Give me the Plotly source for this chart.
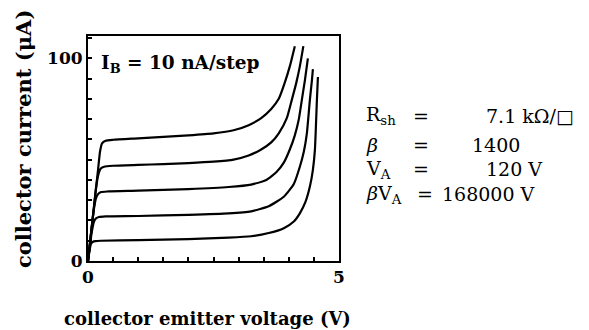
import plotly.graph_objects as go

# ---- data ----
v1 = [0, 0.04, 0.08, 0.12, 0.16, 0.20, 0.24, 0.28, 0.35, 0.5, 1.0, 1.5, 2.0, 2.5, 2.9, 3.2, 3.45, 3.65, 3.8, 3.92, 4.02, 4.12]
i1 = [0, 9, 18, 27, 36, 45, 54, 58, 59.3, 59.8, 60.5, 61.2, 62, 63, 64.5, 67, 70.5, 75, 80, 88, 96, 106]

v2 = [0, 0.04, 0.08, 0.12, 0.16, 0.20, 0.25, 0.32, 0.5, 1.0, 1.5, 2.0, 2.5, 2.9, 3.2, 3.45, 3.65, 3.8, 3.96, 4.06, 4.15, 4.22, 4.29]
i2 = [0, 9, 18, 27, 36, 42, 45.5, 46.5, 47, 47.4, 47.8, 48.3, 49, 50, 52, 55, 58.5, 63, 70.5, 79.5, 88, 96, 106]

v3 = [0, 0.04, 0.08, 0.12, 0.16, 0.20, 0.26, 0.4, 1.0, 2.0, 2.8, 3.25, 3.55, 3.76, 3.9, 4.02, 4.12, 4.2, 4.26, 4.32, 4.38]
i3 = [0, 9, 18, 26, 31, 33, 34, 34.3, 34.7, 35.5, 36.5, 37.7, 40, 44, 48.5, 55, 62, 70, 79.5, 89, 100]

v4 = [0, 0.04, 0.08, 0.12, 0.16, 0.22, 0.35, 1.0, 2.0, 2.8, 3.25, 3.6, 3.9, 4.1, 4.22, 4.3, 4.36, 4.42, 4.46, 4.48]
i4 = [0, 8, 15, 19.5, 21, 21.7, 22, 22.2, 22.8, 23.5, 24.5, 27, 31.7, 38, 46.5, 54, 63, 79.5, 89, 94.7]

v5 = [0, 0.03, 0.06, 0.10, 0.15, 0.25, 1.0, 2.0, 2.8, 3.25, 3.6, 3.9, 4.1, 4.22, 4.33, 4.42, 4.48, 4.52, 4.56, 4.58]
i5 = [0, 5, 8.5, 9.5, 9.8, 10, 10.3, 10.8, 11.5, 12.2, 13.8, 16.2, 19.5, 23.5, 29, 36.7, 45, 54.8, 79.5, 90.8]

curves = [(v1, i1), (v2, i2), (v3, i3), (v4, i4), (v5, i5)]

x_ticks = [0, 5]
x_labels = ["0", "5"]
x_minor_step = 0.5
y_ticks = [0, 100]
y_labels = ["0", "100"]
y_minor_step = 10

x_title = "collector emitter voltage (V)"
y_title = "collector current (μA)"
step_text = "I<sub>B</sub> = 10 nA/step"
param_names = ["R<sub>sh</sub>", "<i>β</i>", "V<sub>A</sub>", "<i>β</i>V<sub>A</sub>"]
param_values = ["7.1 kΩ/□", "1400", "120 V", "168000 V"]

# ---- layout geometry (pixels) ----
W, H = 589, 330
L, R, T, B = 88, 339, 36, 261

def px(x):
    return (x - L) / (R - L)

def py(y):
    return (B - y) / (B - T)

SERIF = "DejaVu Serif"

fig = go.Figure()
for v, i in curves:
    fig.add_trace(go.Scatter(x=v, y=i, mode="lines",
                             line=dict(color="black", width=2.2, shape="spline", smoothing=0.5),
                             showlegend=False, hoverinfo="skip"))

fig.update_layout(
    width=W, height=H,
    margin=dict(l=L, r=W - R, t=T, b=H - B),
    paper_bgcolor="white", plot_bgcolor="white",
    font=dict(family=SERIF, color="black"),
    xaxis=dict(range=[0, 5], tickvals=x_ticks, ticktext=x_labels,
               ticks="inside", ticklen=4, tickwidth=1.5, tickcolor="black",
               minor=dict(ticks="inside", dtick=x_minor_step, tick0=0, ticklen=4,
                          tickwidth=1.5, tickcolor="black", showgrid=False),
               showgrid=False, zeroline=False, showline=True, linewidth=2, linecolor="black",
               mirror=True, tickfont=dict(family=SERIF, size=17, weight="bold")),
    yaxis=dict(range=[0, 111], tickvals=y_ticks, ticktext=y_labels,
               ticks="inside", ticklen=4, tickwidth=1.5, tickcolor="black",
               minor=dict(ticks="inside", dtick=y_minor_step, tick0=0, ticklen=4,
                          tickwidth=1.5, tickcolor="black", showgrid=False),
               showgrid=False, zeroline=False, showline=True, linewidth=2, linecolor="black",
               mirror=True, tickfont=dict(family=SERIF, size=17, weight="bold")),
)

ann = []
ann.append(dict(text="<b>" + x_title + "</b>", x=px(207), y=py(318), xref="paper", yref="paper",
                xanchor="center", yanchor="middle", showarrow=False,
                font=dict(family=SERIF, size=18, color="black")))
ann.append(dict(text="<b>" + y_title + "</b>", x=px(23), y=py(270), xref="paper", yref="paper",
                xanchor="center", yanchor="bottom", textangle=-90, showarrow=False,
                font=dict(family=SERIF, size=21, color="black")))
ann.append(dict(text="<b>" + step_text + "</b>", x=px(99), y=py(64), xref="paper", yref="paper",
                xanchor="left", yanchor="middle", showarrow=False,
                font=dict(family=SERIF, size=18.5, color="black")))

row_y = [116, 145, 169, 194]
val_x = [484, 470, 484, 440]
for k in range(4):
    ann.append(dict(text=param_names[k], x=px(364), y=py(row_y[k]), xref="paper", yref="paper",
                    xanchor="left", yanchor="middle", showarrow=False,
                    font=dict(family=SERIF, size=19, color="black")))
    eq_x = 421 if k < 3 else 425
    ann.append(dict(text="=", x=px(eq_x), y=py(row_y[k]), xref="paper", yref="paper",
                    xanchor="center", yanchor="middle", showarrow=False,
                    font=dict(family=SERIF, size=19, color="black")))
    ann.append(dict(text=param_values[k], x=px(val_x[k]), y=py(row_y[k]), xref="paper", yref="paper",
                    xanchor="left", yanchor="middle", showarrow=False,
                    font=dict(family=SERIF, size=19, color="black")))

fig.update_layout(annotations=ann)
fig.write_html("out.html")
